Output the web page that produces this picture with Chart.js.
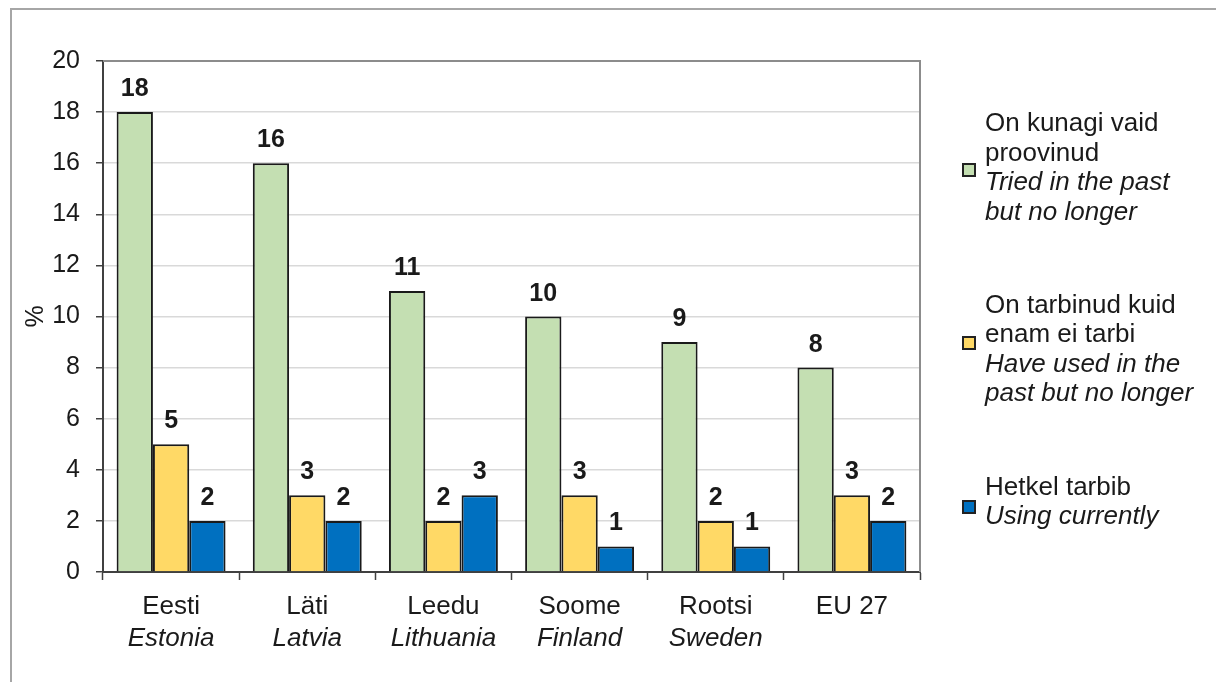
<!DOCTYPE html>
<html>
<head>
<meta charset="utf-8">
<script src="https://cdn.jsdelivr.net/npm/chart.js@4"></script>
<style>
    html, body { margin: 0; padding: 0; background: #fff; overflow: hidden; }
    body { width: 1216px; height: 682px; position: relative; font-family: 'Liberation Sans', Arial, sans-serif; }
    #frame { position: absolute; left: 10px; top: 8px; width: 1220px; height: 700px; border: 2px solid #a6a6a6; }
    #chart { position: absolute; left: 0; top: 0; }
    .leg-box { position: absolute; left: 962px; width: 10px; height: 10px; border: 2px solid #222; }
    .leg-text { position: absolute; left: 985px; font-size: 26px; line-height: 29.5px; color: #1a1a1a; white-space: nowrap; }
</style>
</head>
<body>
<div id="frame"></div>
<canvas id="chart" width="1216" height="682"></canvas>
<div id="legend"></div>
<script>
// --- andmed ---
const categories = ['Eesti', 'Läti', 'Leedu', 'Soome', 'Rootsi', 'EU 27'];
const categoriesEn = ['Estonia', 'Latvia', 'Lithuania', 'Finland', 'Sweden', ''];
const triedValues = [18, 16, 11, 10, 9, 8];
const usedValues = [5, 3, 2, 3, 2, 3];
const currentValues = [2, 2, 3, 1, 1, 2];
const yMin = 0, yMax = 20, yStep = 2;
const seriesEt = [['On kunagi vaid', 'proovinud'], ['On tarbinud kuid', 'enam ei tarbi'], ['Hetkel tarbib']];
const seriesEn = [['Tried in the past', 'but no longer'], ['Have used in the', 'past but no longer'], ['Using currently']];
const seriesColors = ['#c4dfb2', '#ffd966', '#0070c0'];

const textColor = '#1a1a1a';
const axisColor = '#404040';
const fontFamily = '"Liberation Sans", Arial, sans-serif';

// --- legend (HTML, et kursiiv jaaks tekstiks) ---
const legendEl = document.getElementById('legend');
const legendTops = [108, 289.5, 471.5];
const boxTops = [163, 336, 500];
seriesEt.forEach(function (et, i) {
    const box = document.createElement('div');
    box.className = 'leg-box';
    box.style.top = boxTops[i] + 'px';
    box.style.background = seriesColors[i];
    legendEl.appendChild(box);

    const txt = document.createElement('div');
    txt.className = 'leg-text';
    txt.style.top = legendTops[i] + 'px';
    txt.innerHTML = et.join('<br>') + '<br><i>' + seriesEn[i].join('<br>') + '</i>';
    legendEl.appendChild(txt);
});

// ülemine ja parem raam joonisala ümber
const plotFrame = {
    id: 'plotFrame',
    afterDraw(chart) {
        const a = chart.chartArea, ctx = chart.ctx;
        ctx.save();
        ctx.strokeStyle = '#8c8c8c';
        ctx.lineWidth = 2;
        ctx.beginPath();
        ctx.moveTo(a.left, a.top);
        ctx.lineTo(a.right, a.top);
        ctx.lineTo(a.right, a.bottom);
        ctx.stroke();
        ctx.restore();
    }
};

// väärtused tulpade kohal
const valueLabels = {
    id: 'valueLabels',
    afterDatasetsDraw(chart) {
        const ctx = chart.ctx;
        ctx.save();
        ctx.font = 'bold 25px ' + fontFamily;
        ctx.fillStyle = textColor;
        ctx.textAlign = 'center';
        ctx.textBaseline = 'alphabetic';
        chart.data.datasets.forEach(function (ds, di) {
            chart.getDatasetMeta(di).data.forEach(function (bar, i) {
                ctx.fillText(ds.data[i], bar.x, bar.y - 16);
            });
        });
        ctx.restore();
    }
};

// ingliskeelne rida (kursiiv) x-telje all
const englishTicks = {
    id: 'englishTicks',
    afterDraw(chart) {
        const ctx = chart.ctx, xs = chart.scales.x;
        ctx.save();
        ctx.font = 'italic 26px ' + fontFamily;
        ctx.fillStyle = textColor;
        ctx.textAlign = 'center';
        ctx.textBaseline = 'alphabetic';
        categoriesEn.forEach(function (t, i) {
            ctx.fillText(t, xs.getPixelForValue(i), 646);
        });
        ctx.restore();
    }
};

const ctx = document.getElementById('chart').getContext('2d');
new Chart(ctx, {
    type: 'bar',
    data: {
        labels: categories,
        datasets: [
            { label: seriesEt[0].join(' '), data: triedValues, backgroundColor: seriesColors[0] },
            { label: seriesEt[1].join(' '), data: usedValues, backgroundColor: seriesColors[1] },
            { label: seriesEt[2].join(' '), data: currentValues, backgroundColor: seriesColors[2] }
        ]
    },
    options: {
        responsive: false,
        animation: false,
        layout: { padding: { left: 0, top: 61, right: 296, bottom: 0 } },
        datasets: {
            bar: {
                categoryPercentage: 0.8,
                barPercentage: 1.0,
                borderColor: '#1a1a1a',
                borderWidth: 2,
                borderSkipped: 'start'
            }
        },
        scales: {
            x: {
                afterFit(scale) { scale.height = 110; },
                grid: {
                    drawOnChartArea: false,
                    drawTicks: true,
                    tickLength: 8,
                    tickColor: axisColor,
                    tickWidth: 1.5,
                    offset: true
                },
                border: { color: axisColor, width: 2 },
                ticks: {
                    color: textColor,
                    padding: 11,
                    font: { family: fontFamily, size: 26 }
                }
            },
            y: {
                min: yMin,
                max: yMax,
                afterFit(scale) { scale.width = 103; },
                grid: {
                    color: '#d9d9d9',
                    lineWidth: 1.5,
                    tickLength: 7,
                    tickColor: axisColor,
                    tickWidth: 1.5
                },
                border: { color: axisColor, width: 2 },
                ticks: {
                    stepSize: yStep,
                    color: textColor,
                    padding: 16,
                    font: { family: fontFamily, size: 25 }
                },
                title: {
                    display: true,
                    text: '%',
                    color: textColor,
                    padding: { top: 21, bottom: 0 },
                    font: { family: fontFamily, size: 25 }
                }
            }
        },
        plugins: {
            legend: { display: false },
            tooltip: { enabled: false }
        }
    },
    plugins: [plotFrame, valueLabels, englishTicks]
});
</script>
</body>
</html>
